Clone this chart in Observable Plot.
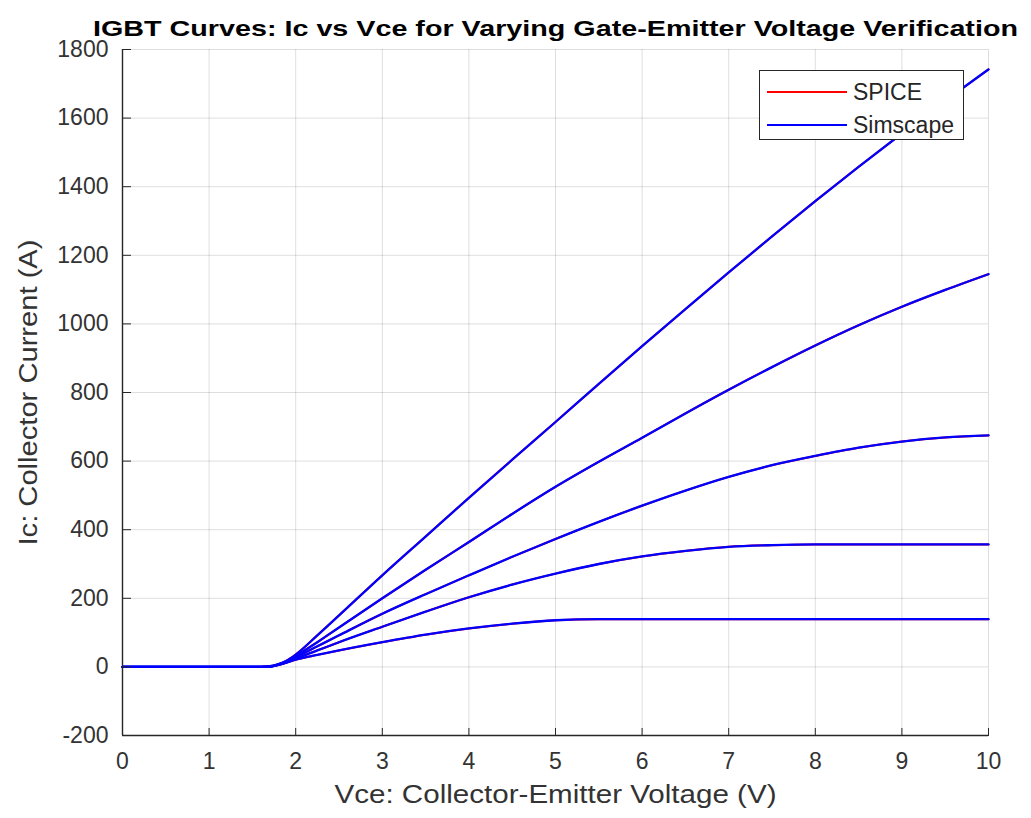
<!DOCTYPE html>
<html>
<head>
<meta charset="utf-8">
<script src="https://cdn.jsdelivr.net/npm/d3@7"></script>
<script src="https://cdn.jsdelivr.net/npm/@observablehq/plot@0.6"></script>
<style>
  body { margin: 0; background: #fff; }
  #wrap { position: relative; width: 1031px; height: 818px; font-family: "Liberation Sans", Arial, sans-serif; color: #262626; }
  #legend { position: absolute; left: 759px; top: 70px; width: 205px; height: 70px; border: 1.5px solid #262626; background: #fff; box-sizing: border-box; }
  .item { position: absolute; left: 0; height: 30px; display: flex; align-items: center; font-size: 23px; color: #262626; }
  .item svg { margin-left: 7px; margin-right: 6px; }
</style>
</head>
<body>
<div id="wrap">
  <div id="chart"></div>
  <div id="legend"></div>
</div>
<script>
// Vce sample points (V)
const vce = [0, 0.5, 1, 1.5, 1.6, 1.7, 1.8, 1.9, 2, 2.25, 2.5, 3, 3.5, 4, 4.5, 5, 5.5, 6, 6.5, 7, 7.5, 8, 8.5, 9, 9.5, 10];

// Collector current (A) for each gate-emitter voltage, lowest to highest
const ic1 = [0, 0, 0, 0, 0, 1, 6, 13, 21, 35, 48, 72, 94, 112, 126, 136, 139, 139, 139, 139, 139, 139, 139, 139, 139, 139];
const ic2 = [0, 0, 0, 0, 0, 1, 6, 14, 24, 48, 72, 117, 161, 203, 240, 272, 300, 322, 338, 350, 355, 357, 357, 357, 357, 357];
const ic3 = [0, 0, 0, 0, 0, 1, 7, 16, 28, 60, 92, 155, 212, 267, 321, 373, 423, 470, 514, 554, 588, 615, 639, 657, 669, 675];
const ic4 = [0, 0, 0, 0, 0, 1, 7, 17, 32, 72, 115, 200, 283, 364, 446, 525, 598, 668, 739, 808, 874, 937, 996, 1050, 1099, 1145];
const ic5 = [0, 0, 0, 0, 0, 2, 8, 19, 36, 92, 150, 267, 380, 493, 604, 714, 825, 935, 1043, 1150, 1255, 1358, 1458, 1555, 1650, 1742];

const seriesNames = ["SPICE", "Simscape"];
const seriesColors = ["#ff0000", "#0000ff"];
const xTicks = [0, 1, 2, 3, 4, 5, 6, 7, 8, 9, 10];
const yTicks = [-200, 0, 200, 400, 600, 800, 1000, 1200, 1400, 1600, 1800];

const titleText = "IGBT Curves: Ic vs Vce for Varying Gate-Emitter Voltage Verification";
const xLabel = "Vce: Collector-Emitter Voltage (V)";
const yLabel = "Ic: Collector Current (A)";

const curves = [ic1, ic2, ic3, ic4, ic5];
const rows = [];
curves.forEach((arr, k) => arr.forEach((v, i) => rows.push({vge: k, vce: vce[i], ic: v})));

const plot = Plot.plot({
  width: 1031,
  height: 818,
  marginLeft: 122,
  marginRight: 43,
  marginTop: 49,
  marginBottom: 83,
  style: { fontFamily: "'Liberation Sans', Arial, sans-serif", fontSize: "23px", color: "#262626", background: "white", overflow: "visible" },
  x: { domain: [0, 10] },
  y: { domain: [-200, 1800] },
  marks: [
    Plot.gridX(xTicks, { stroke: "#000", strokeOpacity: 0.13, strokeWidth: 1 }),
    Plot.gridY(yTicks, { stroke: "#000", strokeOpacity: 0.13, strokeWidth: 1 }),
    Plot.line(rows, { x: "vce", y: "ic", z: "vge", stroke: seriesColors[0], strokeWidth: 2, curve: "monotone-x" }),
    Plot.line(rows, { x: "vce", y: "ic", z: "vge", stroke: seriesColors[1], strokeWidth: 2.3, curve: "monotone-x" }),
    Plot.ruleX([0], { stroke: "#262626", strokeWidth: 1.4 }),
    Plot.ruleY([-200], { stroke: "#262626", strokeWidth: 1.4 }),
    Plot.axisY(yTicks, { anchor: "left", tickSize: 0, tickPadding: 14, tickFormat: d => String(d), label: null, fontSize: 23, fill: "#333" }),
    Plot.axisY(yTicks, { anchor: "right", frameAnchor: "left", tickSize: 8, tickFormat: () => "", label: null, stroke: "#262626" }),
    Plot.axisX(xTicks, { anchor: "bottom", tickSize: 0, tickPadding: 17, tickFormat: d => String(d), label: null, fontSize: 23, fill: "#333" }),
    Plot.axisX(xTicks, { anchor: "top", frameAnchor: "bottom", tickSize: 8, tickFormat: () => "", label: null, stroke: "#262626" }),
    Plot.text([xLabel], { frameAnchor: "bottom", dy: 67, fontSize: 26, fill: "#333" }),
    Plot.text([yLabel], { frameAnchor: "left", textAnchor: "middle", dx: -94, rotate: -90, fontSize: 26, fill: "#333" }),
    Plot.text([titleText], { frameAnchor: "top", dy: -29, fontSize: 22, fontWeight: "bold", fill: "#000" })
  ]
});
document.getElementById("chart").appendChild(plot);

// match measured text widths
plot.querySelectorAll("text").forEach(t => {
  if (t.textContent === titleText) {
    t.setAttribute("textLength", 925);
    t.setAttribute("lengthAdjust", "spacingAndGlyphs");
  } else if (t.textContent === xLabel) {
    t.setAttribute("textLength", 442);
    t.setAttribute("lengthAdjust", "spacingAndGlyphs");
  } else if (t.textContent === yLabel) {
    t.setAttribute("textLength", 306);
    t.setAttribute("lengthAdjust", "spacingAndGlyphs");
  }
});

// legend
const legend = document.getElementById("legend");
seriesNames.forEach((name, i) => {
  const d = document.createElement("div");
  d.className = "item";
  d.style.top = (6 + i * 33) + "px";
  d.innerHTML = `<svg width="80" height="4"><line x1="0" x2="80" y1="2" y2="2" stroke="${seriesColors[i]}" stroke-width="2"/></svg><span>${name}</span>`;
  legend.appendChild(d);
});
</script>
</body>
</html>
